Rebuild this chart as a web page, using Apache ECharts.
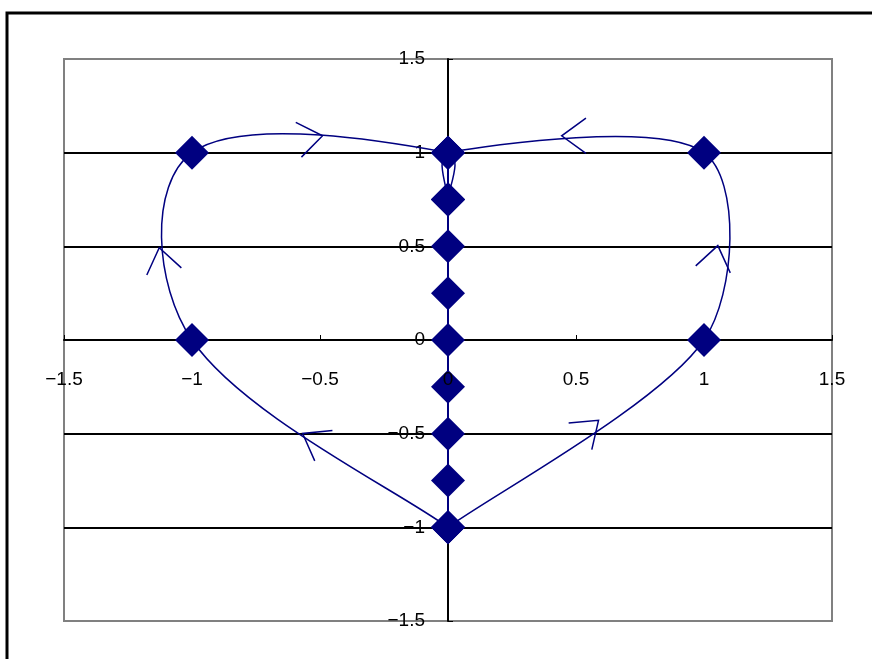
<!DOCTYPE html>
<html>
<head>
<meta charset="utf-8">
<script src="https://cdn.jsdelivr.net/npm/echarts@6/dist/echarts.min.js"></script>
<style>
  html, body { margin: 0; padding: 0; background: #fff; }
  #chart { width: 872px; height: 659px; }
</style>
</head>
<body>
<div id="chart"></div>
<script>
// heart outline: left half and right half, both start at the bottom tip
var leftCurve = [[0, -1], [-1, 0], [-1, 1], [0, 1], [0, 0.75]];
var rightCurve = [[0, -1], [1, 0], [1, 1], [0, 1], [0, 0.75]];
// points down the middle
var centerX = [0, 0, 0, 0, 0, 0, 0, 0, 0];
var centerY = [1, 0.75, 0.5, 0.25, 0, -0.25, -0.5, -0.75, -1];
// arrow heads: tip x, tip y, point behind the tip (x, y)
var arrows = [
  [-0.49, 1.09, -0.607, 1.064],
  [0.444, 1.09, 0.56, 1.09],
  [1.054, 0.504, 1.031, 0.349],
  [-1.128, 0.493, -1.105, 0.339],
  [-0.568, -0.499, -0.467, -0.579],
  [0.588, -0.429, 0.498, -0.536]
];

var navy = '#000080';
var centerData = centerX.map(function (x, i) { return [x, centerY[i]]; });

// plot box
var gLeft = 64, gRight = 40, gTop = 59, gBottom = 38;
var gW = 872 - gLeft - gRight, gH = 659 - gTop - gBottom;

var myChart = echarts.init(document.getElementById('chart'));

function dist(a, b) {
  return Math.sqrt((a[0] - b[0]) * (a[0] - b[0]) + (a[1] - b[1]) * (a[1] - b[1]));
}

// smooth curve through the points (catmull-rom style bezier, like excel)
function curveSeries(points, k) {
  return {
    type: 'custom',
    data: points,
    encode: { x: 0, y: 1 },
    z: 2,
    silent: true,
    renderItem: function (params, api) {
      var i = params.dataIndex;
      var n = points.length;
      if (i >= n - 1) return null;
      var p = points.map(function (d) { return api.coord(d); });
      var p0 = p[Math.max(i - 1, 0)], p1 = p[i], p2 = p[i + 1], p3 = p[Math.min(i + 2, n - 1)];
      var d01 = dist(p0, p1), d12 = dist(p1, p2), d23 = dist(p2, p3);
      // shorten the tangent when this segment is much shorter than its neighbour
      var f1 = Math.min(1, 2 * d12 / (d01 + d12 || 1));
      var f2 = Math.min(1, 2 * d12 / (d12 + d23 || 1));
      return {
        type: 'bezierCurve',
        shape: {
          x1: p1[0], y1: p1[1],
          x2: p2[0], y2: p2[1],
          cpx1: p1[0] + k * f1 * (p2[0] - p0[0]), cpy1: p1[1] + k * f1 * (p2[1] - p0[1]),
          cpx2: p2[0] - k * f2 * (p3[0] - p1[0]), cpy2: p2[1] - k * f2 * (p3[1] - p1[1])
        },
        style: { fill: null, stroke: navy, lineWidth: 1.5 }
      };
    }
  };
}

function markerSeries(data) {
  return {
    type: 'scatter',
    data: data,
    symbol: 'diamond',
    symbolSize: 34,
    itemStyle: { color: navy, opacity: 1 },
    z: 3
  };
}

var labelFont = {
  color: '#000',
  fontFamily: 'Liberation Sans',
  fontSize: 19,
  formatter: function (v) { return String(v).replace('-', '\u2212'); }
};

var option = {
  animation: false,
  grid: {
    left: gLeft,
    right: gRight,
    top: gTop,
    bottom: gBottom,
    show: true,
    borderColor: '#808080',
    borderWidth: 2
  },
  graphic: [{
    type: 'rect',
    shape: { x: 7, y: 13, width: 900, height: 700 },
    style: { fill: null, stroke: '#000', lineWidth: 3 },
    silent: true
  }],
  xAxis: [{
    type: 'value',
    min: -1.5,
    max: 1.5,
    interval: 0.5,
    offset: -gH / 2,
    axisLine: { onZero: false, lineStyle: { color: '#000', width: 2 } },
    axisTick: { inside: true, length: 5, lineStyle: { color: '#000', width: 1 } },
    axisLabel: { show: false },
    splitLine: { show: false }
  }, {
    // labels only, drawn above the markers
    type: 'value',
    position: 'bottom',
    min: -1.5,
    max: 1.5,
    interval: 0.5,
    offset: -gH / 2,
    zlevel: 1,
    axisLine: { show: false, onZero: false },
    axisTick: { show: false },
    axisLabel: Object.assign({ margin: 30 }, labelFont),
    splitLine: { show: false }
  }],
  yAxis: {
    type: 'value',
    min: -1.5,
    max: 1.5,
    interval: 0.5,
    offset: -gW / 2,
    axisLine: { onZero: false, lineStyle: { color: '#000', width: 2 } },
    axisTick: { inside: true, length: 5, lineStyle: { color: '#000', width: 1 } },
    axisLabel: Object.assign({ margin: 23 }, labelFont),
    splitLine: {
      show: true,
      showMinLine: false,
      showMaxLine: false,
      lineStyle: { color: '#000', width: 2 }
    }
  },
  series: [
    curveSeries(leftCurve, 0.2),
    curveSeries(rightCurve, 0.17),
    {
      type: 'line',
      data: centerData,
      symbol: 'none',
      lineStyle: { color: navy, width: 2 },
      z: 2
    },
    markerSeries(leftCurve),
    markerSeries(rightCurve),
    markerSeries(centerData),
    {
      type: 'custom',
      data: arrows,
      encode: { x: 0, y: 1 },
      z: 4,
      silent: true,
      renderItem: function (params, api) {
        var tip = api.coord([api.value(0), api.value(1)]);
        var back = api.coord([api.value(2), api.value(3)]);
        var dx = back[0] - tip[0];
        var dy = back[1] - tip[1];
        var len = Math.sqrt(dx * dx + dy * dy);
        dx /= len; dy /= len;
        var a = 36 * Math.PI / 180;
        var L = 30;
        var w1 = [tip[0] + L * (dx * Math.cos(a) - dy * Math.sin(a)),
                  tip[1] + L * (dx * Math.sin(a) + dy * Math.cos(a))];
        var w2 = [tip[0] + L * (dx * Math.cos(-a) - dy * Math.sin(-a)),
                  tip[1] + L * (dx * Math.sin(-a) + dy * Math.cos(-a))];
        return {
          type: 'polyline',
          shape: { points: [w1, tip, w2] },
          style: { fill: null, stroke: navy, lineWidth: 1.5 }
        };
      }
    }
  ]
};
myChart.setOption(option);
</script>
</body>
</html>
